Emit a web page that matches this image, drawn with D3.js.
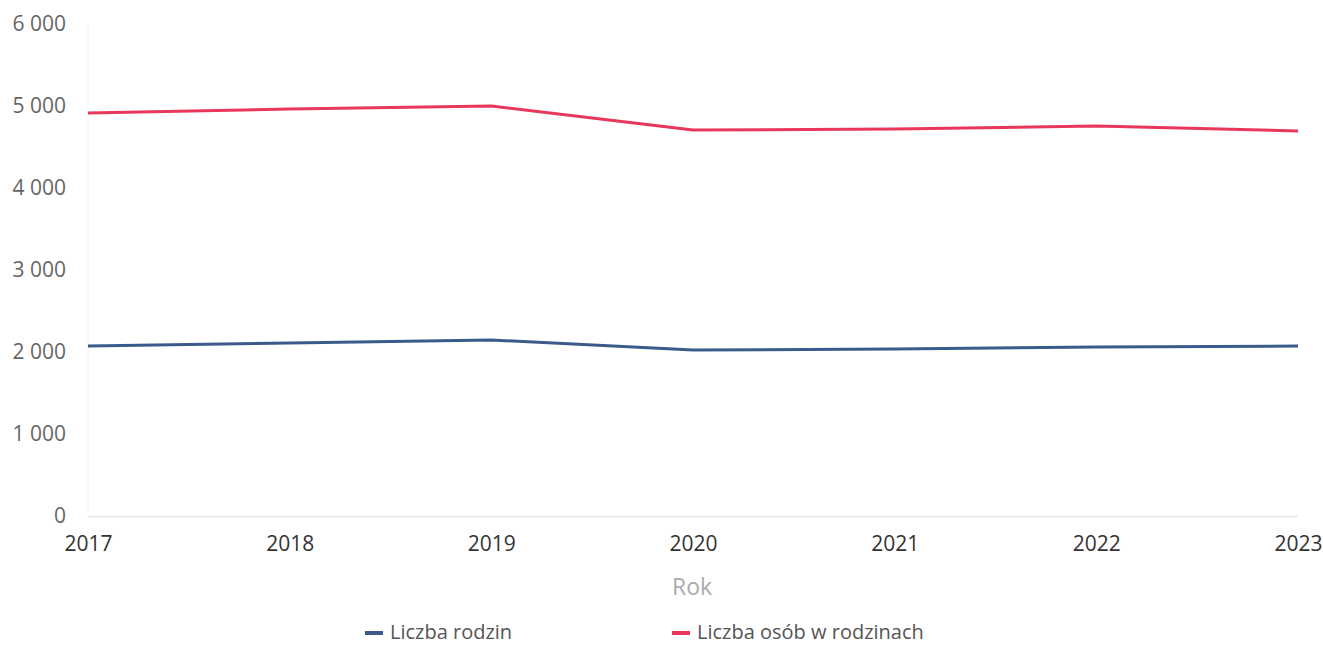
<!DOCTYPE html>
<html><head><meta charset="utf-8">
<script src="https://cdn.jsdelivr.net/npm/d3@7"></script>
<style>body{margin:0;background:#fff;font-family:"Open Sans",sans-serif;}</style>
</head><body><svg id="c" width="1323" height="645"></svg>
<script>
const years = [2017, 2018, 2019, 2020, 2021, 2022, 2023];
const rodziny = [2073, 2110, 2146, 2024, 2037, 2061, 2073];
const osoby = [4915, 4963, 5000, 4707, 4720, 4756, 4695];
const yTicks = [0, 1000, 2000, 3000, 4000, 5000, 6000];
const seriesNames = ["Liczba rodzin", "Liczba osób w rodzinach"];
const colors = ["#3b5a8c", "#e8375a"];

const svg = d3.select("#c");
const x = d3.scaleLinear().domain([2017, 2023]).range([88, 1298]);
const y = d3.scaleLinear().domain([0, 6000]).range([516, 24]);
const fmt = v => d3.format(",")(v).replace(/,/g, " ");

svg.append("line").attr("x1", 88).attr("x2", 88).attr("y1", 24).attr("y2", 516).attr("stroke", "#f2f2f2").attr("stroke-width", 1);
svg.append("line").attr("x1", 88).attr("x2", 1298).attr("y1", 516.5).attr("y2", 516.5).attr("stroke", "#e6e6e6").attr("stroke-width", 1.5);

const ya = svg.append("g").attr("transform", "translate(69,0)")
  .call(d3.axisLeft(y).tickValues(yTicks).tickSize(0).tickFormat(fmt));
ya.select(".domain").remove();
ya.selectAll("text").attr("font-family", "Open Sans").attr("font-size", 21).attr("fill", "#666").attr("dy", "0.32em");

const xa = svg.append("g").attr("transform", "translate(0,533)")
  .call(d3.axisBottom(x).tickValues(years).tickSize(0).tickFormat(d3.format("d")));
xa.select(".domain").remove();
xa.selectAll("text").attr("font-family", "Open Sans").attr("font-size", 21).attr("fill", "#333").attr("dy", "0.71em");

svg.append("text").attr("x", 692).attr("y", 595).attr("text-anchor", "middle")
  .attr("font-family", "Open Sans").attr("font-size", 23).attr("fill", "#aaa").text("Rok");

const line = d3.line().x((d, i) => x(years[i])).y(d => y(d));
[rodziny, osoby].forEach((s, k) => {
  svg.append("path").attr("d", line(s)).attr("fill", "none")
    .attr("stroke", colors[k]).attr("stroke-width", 3).attr("stroke-linejoin", "round");
});

const legX = [365, 672];
seriesNames.forEach((n, k) => {
  svg.append("rect").attr("x", legX[k]).attr("y", 631).attr("width", 18).attr("height", 4).attr("fill", colors[k]);
  svg.append("text").attr("x", legX[k] + 25).attr("y", 639).attr("font-family", "Open Sans")
    .attr("font-size", 20).attr("fill", "#555").text(n);
});
</script></body></html>
